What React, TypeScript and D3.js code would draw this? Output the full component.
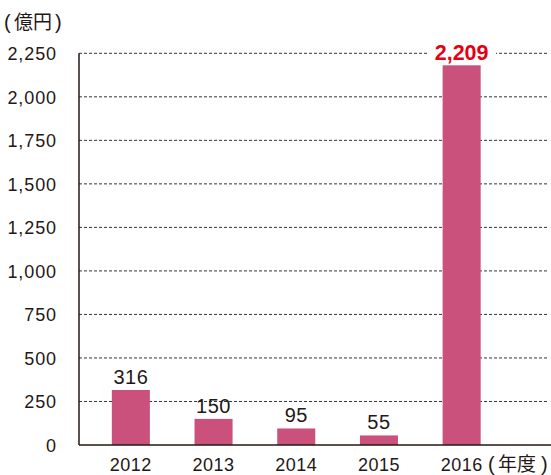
import React from "react";
import * as d3 from "d3";

const years = ["2012", "2013", "2014", "2015", "2016"];
const values = [316, 150, 95, 55, 2209];
const valueLabels = ["316", "150", "95", "55", "2,209"];
const yTicks = [0, 250, 500, 750, 1000, 1250, 1500, 1750, 2000, 2250];

const W = 551;
const H = 475;
const NUM_FONT = "'Liberation Sans', Arial, Helvetica, sans-serif";
const CJK_FONT = "'Noto Sans CJK JP', 'Noto Sans', sans-serif";
const TEXT = "#231815";

export default function App() {
  const x = d3.scaleBand<string>().domain(years).range([89.5, 503]).paddingInner(0.54).paddingOuter(0.27);
  const y = d3.scaleLinear().domain([0, 2250]).range([445, 53.3]);
  const fmt = d3.format(",");
  const axisX = 79;
  return (
    <svg width={W} height={H} style={{ position: "absolute", left: 0, top: 0, background: "#fff" }}>
      <text y={28.5} fontFamily={CJK_FONT} fontSize={19} fill={TEXT}>
        <tspan x={4} fontFamily={NUM_FONT} fontSize={20}>(</tspan>
        <tspan x={14}>億円</tspan>
        <tspan x={55} fontFamily={NUM_FONT} fontSize={20}>)</tspan>
      </text>
      {yTicks.map((t) => (
        <g key={t}>
          {t > 0 && (
            <line x1={axisX} x2={548} y1={y(t)} y2={y(t)} stroke="#333" strokeWidth={1} strokeDasharray="3,2" />
          )}
          <text x={57} y={y(t) + 6.8} textAnchor="end" fontFamily={NUM_FONT} fontSize={18} letterSpacing={0.9} fill={TEXT}>
            {fmt(t)}
          </text>
        </g>
      ))}
      {years.map((yr, i) => {
        const bx = x(yr)!;
        const cx = bx + x.bandwidth() / 2;
        const last = i === years.length - 1;
        return (
          <g key={yr}>
            <rect x={bx} y={y(values[i])} width={x.bandwidth()} height={y(0) - y(values[i])} fill="#c9517c" />
            {last ? (
              <g>
                <rect x={428} y={y(2250) - 10} width={68} height={22} fill="#fff" />
                <text x={cx} y={y(2250) + 7} textAnchor="middle" fontFamily={NUM_FONT} fontSize={21.5} fontWeight="bold" fill="#e60012">
                  {valueLabels[i]}
                </text>
              </g>
            ) : (
              <text x={cx} y={y(values[i]) - 6} textAnchor="middle" fontFamily={NUM_FONT} fontSize={20} letterSpacing={0.5} fill={TEXT}>
                {valueLabels[i]}
              </text>
            )}
            <text x={cx} y={471} textAnchor="middle" fontFamily={NUM_FONT} fontSize={18} letterSpacing={0.5} fill={TEXT}>
              {yr}
            </text>
          </g>
        );
      })}
      <text y={471} fontFamily={CJK_FONT} fontSize={19} fill={TEXT}>
        <tspan x={488} fontFamily={NUM_FONT} fontSize={20}>(</tspan>
        <tspan x={498}>年度</tspan>
        <tspan x={541} fontFamily={NUM_FONT} fontSize={20}>)</tspan>
      </text>
      <line x1={axisX} x2={W} y1={y(0)} y2={y(0)} stroke={TEXT} strokeWidth={1.5} />
      <line x1={axisX} x2={axisX} y1={y(2250)} y2={y(0)} stroke={TEXT} strokeWidth={1.5} />
    </svg>
  );
}
